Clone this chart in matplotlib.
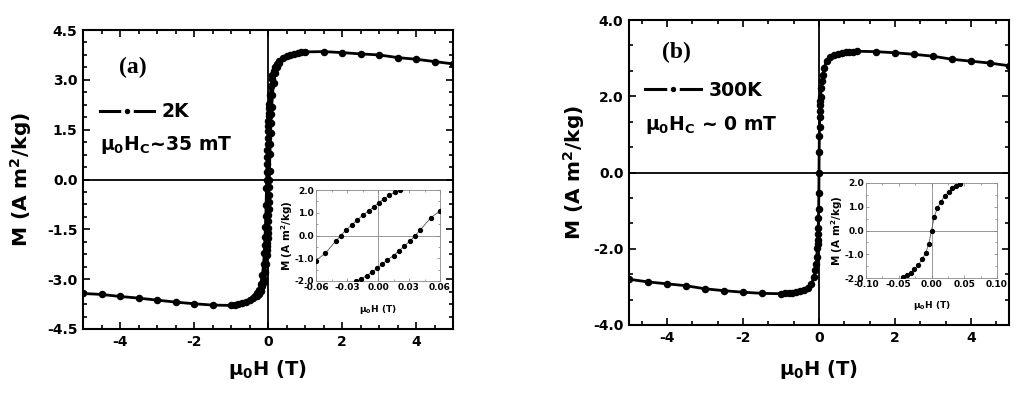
import matplotlib
matplotlib.use('Agg')
import matplotlib.pyplot as plt
from matplotlib.ticker import MultipleLocator, FormatStrFormatter
from matplotlib.lines import Line2D

plt.rcParams['font.family'] = ['DejaVu Sans']
plt.rcParams['font.weight'] = 'bold'
plt.rcParams['axes.unicode_minus'] = False
plt.rcParams['mathtext.fontset'] = 'custom'
plt.rcParams['mathtext.rm'] = 'DejaVu Sans:bold'
plt.rcParams['mathtext.bf'] = 'DejaVu Sans:bold'
plt.rcParams['mathtext.it'] = 'DejaVu Sans:bold'
plt.rcParams['mathtext.default'] = 'rm'

# ---------------- data: panel (a), 2 K ----------------
H_a_down = [5.0, 4.5, 4.0, 3.5, 3.0, 2.5, 2.0, 1.5, 1.0, 0.9, 0.8, 0.7, 0.6, 0.5,
            0.4, 0.3, 0.25, 0.2, 0.15, 0.12, 0.1, 0.08, 0.06, 0.04, 0.03, 0.021,
            0.016, 0.011, 0.006, 0.001, -0.004, -0.009, -0.015, -0.020, -0.025,
            -0.031, -0.036, -0.041, -0.051, -0.06, -0.07, -0.08, -0.09, -0.10,
            -0.12, -0.15, -0.2, -0.25, -0.3, -0.35, -0.4, -0.5, -0.6, -0.7, -0.8,
            -0.9, -1.0, -1.5, -2.0, -2.5, -3.0, -3.5, -4.0, -4.5, -5.0]
M_a_down = [3.48, 3.55, 3.62, 3.67, 3.75, 3.78, 3.82, 3.85, 3.84, 3.83, 3.81, 3.79,
            3.76, 3.72, 3.66, 3.56, 3.49, 3.40, 3.27, 3.15, 3.02, 2.80, 2.55, 2.28,
            2.14, 2.00, 1.90, 1.76, 1.62, 1.45, 1.26, 1.08, 0.88, 0.69, 0.48, 0.24,
            0.00, -0.25, -0.78, -1.10, -1.42, -1.72, -1.98, -2.20, -2.55, -2.88,
            -3.15, -3.32, -3.43, -3.51, -3.57, -3.64, -3.69, -3.73, -3.76, -3.78,
            -3.79, -3.78, -3.74, -3.69, -3.63, -3.57, -3.52, -3.46, -3.43]
H_a_up = [-0.3, -0.25, -0.2, -0.15, -0.12, -0.1, -0.08, -0.06, -0.04, -0.03, -0.021,
          -0.016, -0.011, -0.006, -0.001, 0.004, 0.009, 0.015, 0.020, 0.025, 0.031,
          0.036, 0.041, 0.051, 0.06, 0.07, 0.08, 0.09, 0.10, 0.12, 0.15, 0.2, 0.25, 0.3]
M_a_up = [-3.50, -3.45, -3.36, -3.22, -3.10, -2.98, -2.78, -2.54, -2.27, -2.13, -2.00,
          -1.90, -1.76, -1.62, -1.45, -1.26, -1.08, -0.88, -0.69, -0.48, -0.24, 0.00,
          0.25, 0.78, 1.08, 1.40, 1.70, 1.96, 2.18, 2.55, 2.90, 3.20, 3.38, 3.50]

# ---------------- data: panel (b), 300 K ----------------
H_b = [-5.0, -4.5, -4.0, -3.5, -3.0, -2.5, -2.0, -1.5, -1.0, -0.9, -0.8, -0.7, -0.6,
       -0.5, -0.4, -0.3, -0.2, -0.13, -0.1, -0.08, -0.06, -0.043, -0.037, -0.032,
       -0.026, -0.020, -0.014, -0.009, -0.004, 0.0, 0.004, 0.009, 0.014, 0.020,
       0.026, 0.032, 0.037, 0.043, 0.06, 0.08, 0.1, 0.13, 0.2, 0.3, 0.4, 0.5, 0.6,
       0.7, 0.8, 0.9, 1.0, 1.5, 2.0, 2.5, 3.0, 3.5, 4.0, 4.5, 5.0]
M_b = [-2.80, -2.87, -2.92, -2.97, -3.05, -3.10, -3.14, -3.17, -3.18, -3.17, -3.16,
       -3.15, -3.13, -3.11, -3.08, -3.02, -2.93, -2.73, -2.55, -2.40, -2.22, -1.97,
       -1.88, -1.78, -1.62, -1.45, -1.20, -0.95, -0.55, 0.00, 0.55, 0.95, 1.20, 1.45,
       1.62, 1.78, 1.88, 1.97, 2.22, 2.40, 2.55, 2.73, 2.93, 3.02, 3.08, 3.11, 3.13,
       3.15, 3.16, 3.17, 3.18, 3.17, 3.14, 3.10, 3.05, 2.97, 2.92, 2.87, 2.80]

xticks_main = [-4, -2, 0, 2, 4]
yticks_a = [-4.5, -3.0, -1.5, 0.0, 1.5, 3.0, 4.5]
yticks_b = [-4.0, -2.0, 0.0, 2.0, 4.0]
xticks_ins_a = [-0.06, -0.03, 0.0, 0.03, 0.06]
xticks_ins_b = [-0.10, -0.05, 0.0, 0.05, 0.10]
yticks_ins = [-2.0, -1.0, 0.0, 1.0, 2.0]

fig = plt.figure(figsize=(10.24, 3.96), dpi=100)


def style_main(ax, yticks, xminor, yminor):
    ax.set_xlim(-5, 5)
    ax.set_ylim(yticks[0], yticks[-1])
    ax.set_xticks(xticks_main)
    ax.set_yticks(yticks)
    ax.xaxis.set_minor_locator(MultipleLocator(xminor))
    ax.yaxis.set_minor_locator(MultipleLocator(yminor))
    ax.yaxis.set_major_formatter(FormatStrFormatter('%.1f'))
    ax.tick_params(which='both', direction='in', top=True, right=True, width=1.2,
                   labelsize=10, pad=4)
    ax.tick_params(which='major', length=5)
    ax.tick_params(which='minor', length=3)
    for s in ax.spines.values():
        s.set_linewidth(1.5)
    ax.axhline(0, color='k', lw=1.3, zorder=1)
    ax.axvline(0, color='k', lw=1.3, zorder=1)
    ax.set_xlabel('μ$_0$H (T)', fontsize=14, fontweight='bold')
    ax.set_ylabel('M (A m$^2$/kg)', fontsize=14.5, fontweight='bold')


def style_inset(ax, xticks, fmt, ylab_x, xlab_y):
    ax.set_xlim(xticks[0], xticks[-1])
    ax.set_ylim(-2, 2)
    ax.set_xticks(xticks)
    ax.set_yticks(yticks_ins)
    ax.xaxis.set_major_formatter(FormatStrFormatter(fmt))
    ax.yaxis.set_major_formatter(FormatStrFormatter('%.1f'))
    ax.xaxis.set_minor_locator(MultipleLocator((xticks[1] - xticks[0]) / 2))
    ax.yaxis.set_minor_locator(MultipleLocator(0.5))
    ax.tick_params(which='both', direction='in', top=True, right=True, width=0.5,
                   labelsize=6.5, pad=1.5, color='#777777')
    ax.tick_params(which='major', length=2.5)
    ax.tick_params(which='minor', length=1.5)
    for s in ax.spines.values():
        s.set_linewidth(0.6)
        s.set_color('#888888')
    ax.axhline(0, color='#888888', lw=0.6, zorder=1)
    ax.axvline(0, color='#888888', lw=0.6, zorder=1)
    ax.set_xlabel('μ$_0$H (T)', fontsize=6.5, fontweight='bold')
    ax.set_ylabel('M (A m$^2$/kg)', fontsize=7.5, fontweight='bold')
    ax.yaxis.set_label_coords(ylab_x, 0.5)
    ax.xaxis.set_label_coords(0.5, xlab_y)


line_kw = dict(color='k', lw=2.0, marker='o', ms=4.4, zorder=3)
ins_kw = dict(color='#555555', lw=0.6, marker='o', ms=2.8, mfc='k', mec='k', zorder=3)

# ---------------- panel (a) ----------------
axA = fig.add_axes([83 / 1024, 1 - 329 / 396, 370 / 1024, 299 / 396])
style_main(axA, yticks_a, 0.5, 0.375)
axA.plot(H_a_down, M_a_down, **line_kw)
axA.plot(H_a_up, M_a_up, **line_kw)
axA.xaxis.set_label_coords(0.5, -0.097)
axA.yaxis.set_label_coords(-0.132, 0.5)
axA.text(0.097, 0.857, '(a)', transform=axA.transAxes, fontsize=17,
         fontweight='bold', family=['Liberation Serif'], va='baseline', ha='left')
hA = Line2D([], [], color='k', lw=2.2, marker='o', ms=6.5, mfc='k', mec='white', mew=2.6)
axA.legend([hA], ['2K'], loc='center left', bbox_to_anchor=(0.046, 0.726),
           frameon=False, handlelength=2.9, handletextpad=0.4,
           borderpad=0, borderaxespad=0, numpoints=1,
           prop={'weight': 'bold', 'size': 13.5})
axA.text(0.046, 0.599, 'μ$_0$H$_C$~35 mT', transform=axA.transAxes, fontsize=13.5,
         fontweight='bold', va='baseline', ha='left')

insA = fig.add_axes([316 / 1024, 1 - 281 / 396, 124 / 1024, 91 / 396])
style_inset(insA, xticks_ins_a, '%.2f', -0.17, -0.24)
insA.plot(H_a_down, M_a_down, **ins_kw)
insA.plot(H_a_up, M_a_up, **ins_kw)

# ---------------- panel (b) ----------------
axB = fig.add_axes([629 / 1024, 1 - 325 / 396, 380 / 1024, 305 / 396])
style_main(axB, yticks_b, 2 / 3, 2 / 3)
axB.plot(H_b, M_b, **line_kw)
axB.xaxis.set_label_coords(0.5, -0.108)
axB.yaxis.set_label_coords(-0.111, 0.5)
axB.text(0.086, 0.874, '(b)', transform=axB.transAxes, fontsize=17,
         fontweight='bold', family=['Liberation Serif'], va='baseline', ha='left')
hB = Line2D([], [], color='k', lw=2.2, marker='o', ms=6.5, mfc='k', mec='white', mew=2.6)
axB.legend([hB], ['300K'], loc='center left', bbox_to_anchor=(0.042, 0.77),
           frameon=False, handlelength=3.0, handletextpad=0.4,
           borderpad=0, borderaxespad=0, numpoints=1,
           prop={'weight': 'bold', 'size': 13.5})
axB.text(0.042, 0.639, 'μ$_0$H$_C$ ~ 0 mT', transform=axB.transAxes, fontsize=13.5,
         fontweight='bold', va='baseline', ha='left')

insB = fig.add_axes([866 / 1024, 1 - 278 / 396, 131 / 1024, 95 / 396])
style_inset(insB, xticks_ins_b, '%.2f', -0.16, -0.22)
insB.plot(H_b, M_b, **ins_kw)

fig.savefig('out.png', dpi=100)
